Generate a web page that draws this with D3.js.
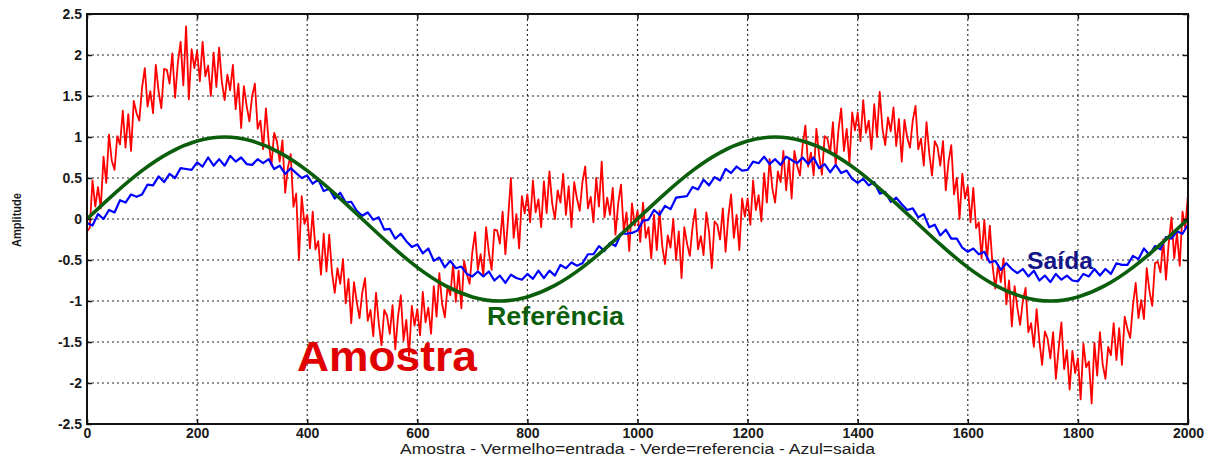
<!DOCTYPE html>
<html><head><meta charset="utf-8">
<script src="https://cdn.jsdelivr.net/npm/d3@7"></script>
<style>
html,body{margin:0;padding:0;background:#fff;}
svg{display:block;font-family:"Liberation Sans",Arial,sans-serif;}
</style></head>
<body><svg id="c" width="1213" height="458"></svg>
<script>
// ---- data ----
const xTicks = [0,200,400,600,800,1000,1200,1400,1600,1800,2000];
const yTicks = [-2.5,-2,-1.5,-1,-0.5,0,0.5,1,1.5,2,2.5];
const yTickLabels = ["-2.5","-2","-1.5","-1","-0.5","0","0.5","1","1.5","2","2.5"];

// Vermelho = entrada (amostra), one value every 5 samples
const redStep = 5;
const redValues = [
-0.15,-0.11,0.47,0.15,0.39,0.13,0.76,0.44,1.03,0.71,
0.60,1.01,0.91,1.32,0.87,1.28,0.83,1.44,1.29,1.20,
1.60,1.84,1.37,1.56,1.29,1.88,1.56,1.35,1.83,1.82,
1.65,2.02,1.48,1.90,2.16,1.63,2.35,1.46,2.07,1.84,
2.05,1.68,2.16,1.74,1.87,1.50,2.03,1.61,2.09,1.67,
1.45,1.76,1.57,1.88,1.34,1.65,1.11,1.62,1.38,1.19,
1.50,1.65,1.10,1.20,0.85,1.35,0.95,0.65,1.05,0.95,
0.70,0.96,0.32,0.63,0.79,0.15,0.31,-0.50,0.28,-0.06,
0.05,-0.36,0.09,-0.37,-0.27,-0.68,-0.18,-0.64,-0.19,-0.65,
-0.90,-0.60,-0.79,-0.49,-1.03,-0.73,-1.27,-0.77,-1.01,-1.21,
-0.90,-0.72,-1.24,-1.11,-1.43,-0.90,-1.27,-1.54,-1.11,-1.18,
-1.40,-1.05,-1.59,-1.19,-0.93,-1.48,-1.23,-1.67,-1.06,-1.30,
-1.10,-1.42,-0.89,-1.26,-1.08,-1.40,-0.82,-1.19,-0.66,-1.03,
-1.20,-0.82,-0.93,-0.55,-1.01,-0.63,-1.09,-0.51,-0.67,-0.79,
-0.40,-0.16,-0.62,-0.43,-0.69,-0.10,-0.41,-0.62,-0.13,-0.14,
-0.30,0.09,-0.43,0.01,0.50,-0.23,0.06,-0.36,0.28,0.07,
0.30,-0.04,0.47,0.08,0.24,-0.10,0.46,0.07,0.58,0.19,
0.00,0.35,0.20,0.55,0.05,0.40,-0.10,0.45,0.25,0.10,
0.45,0.64,0.13,0.27,-0.04,0.50,0.15,0.70,0.02,0.26,
0.05,0.38,-0.19,0.19,0.42,-0.15,0.08,-0.39,0.19,-0.08,
0.10,-0.28,0.20,-0.23,-0.10,-0.48,0.05,-0.38,0.10,-0.33,
-0.55,-0.20,-0.35,0.00,-0.50,-0.15,-0.72,-0.10,-0.30,-0.45,
-0.10,0.12,-0.37,-0.21,-0.44,0.08,-0.16,-0.60,-0.03,-0.07,
-0.25,0.13,-0.40,0.03,0.30,-0.23,0.05,-0.38,0.25,0.03,
0.25,-0.07,0.47,0.11,0.29,-0.03,0.56,0.20,0.73,0.37,
0.20,0.58,0.45,0.83,0.35,0.73,0.25,0.83,0.65,0.53,
0.90,1.14,0.64,0.81,0.53,1.10,0.77,0.54,1.01,0.98,
0.80,1.18,0.65,1.08,1.35,0.83,1.10,0.68,1.30,1.08,
1.30,0.95,1.45,1.05,1.20,0.85,1.40,1.00,1.55,1.10,
0.90,1.24,1.07,1.36,0.89,1.22,0.70,1.21,0.99,0.87,
1.20,1.38,0.85,0.98,0.65,1.18,0.80,0.53,0.95,0.88,
0.65,0.95,0.35,0.70,0.90,0.30,0.50,0.00,0.55,0.25,
0.40,-0.04,0.38,-0.11,-0.04,-0.48,-0.01,-0.50,-0.08,-0.57,
-0.85,-0.56,-0.77,-0.48,-1.04,-0.75,-1.31,-0.82,-1.08,-1.29,
-1.00,-0.84,-1.38,-1.27,-1.56,-1.10,-1.49,-1.78,-1.37,-1.46,
-1.70,-1.38,-1.95,-1.58,-1.26,-1.83,-1.60,-2.08,-1.61,-1.88,
-1.70,-2.20,-1.52,-1.81,-1.74,-2.25,-1.51,-1.91,-1.38,-1.77,
-1.95,-1.56,-1.66,-1.27,-1.72,-1.33,-1.78,-1.19,-1.34,-1.45,
-1.05,-0.78,-1.21,-0.99,-1.22,-0.60,-0.88,-1.06,-0.54,-0.52,
-0.65,-0.25,-0.74,-0.29,0.02,-0.48,-0.17,-0.57,0.09,-0.11,
0.30
];

// Azul = saida, one value every 10 samples
const blueStep = 10;
const blueValues = [
-0.05,-0.08,0.06,0.00,0.11,0.08,0.23,0.20,0.30,0.27,
0.30,0.42,0.41,0.52,0.45,0.55,0.50,0.62,0.61,0.60,
0.69,0.64,0.75,0.65,0.73,0.65,0.77,0.70,0.75,0.67,
0.66,0.73,0.68,0.73,0.61,0.65,0.55,0.62,0.56,0.50,
0.53,0.43,0.48,0.34,0.37,0.25,0.32,0.20,0.21,0.10,
0.04,0.08,-0.01,0.02,-0.13,-0.12,-0.24,-0.18,-0.27,-0.34,
-0.31,-0.42,-0.36,-0.51,-0.47,-0.59,-0.51,-0.60,-0.58,-0.67,
-0.70,-0.64,-0.70,-0.64,-0.75,-0.69,-0.78,-0.68,-0.72,-0.74,
-0.67,-0.73,-0.63,-0.72,-0.63,-0.69,-0.56,-0.60,-0.53,-0.57,
-0.54,-0.43,-0.43,-0.33,-0.39,-0.29,-0.33,-0.18,-0.18,-0.17,
-0.14,-0.02,-0.01,0.11,0.05,0.16,0.12,0.26,0.27,0.28,
0.39,0.36,0.48,0.41,0.51,0.47,0.61,0.56,0.64,0.59,
0.60,0.70,0.68,0.76,0.67,0.73,0.66,0.76,0.72,0.68,
0.75,0.67,0.75,0.62,0.67,0.57,0.66,0.56,0.59,0.49,
0.44,0.49,0.41,0.45,0.31,0.33,0.21,0.26,0.18,0.11,
0.13,0.02,0.06,-0.10,-0.07,-0.20,-0.13,-0.24,-0.24,-0.35,
-0.40,-0.36,-0.43,-0.40,-0.53,-0.51,-0.62,-0.54,-0.61,-0.66,
-0.61,-0.70,-0.63,-0.75,-0.69,-0.77,-0.67,-0.74,-0.69,-0.75,
-0.76,-0.67,-0.70,-0.61,-0.69,-0.61,-0.67,-0.54,-0.56,-0.56,
-0.45,-0.49,-0.36,-0.44,-0.33,-0.37,-0.22,-0.24,-0.15,-0.18,
-0.07
];

// Verde = referencia, one value every 50 samples
const greenStep = 50;
const greenValues = [
0,0.31,0.59,0.81,0.95,1,0.95,0.81,0.59,0.31,
0,-0.31,-0.59,-0.81,-0.95,-1,-0.95,-0.81,-0.59,-0.31,
0,0.31,0.59,0.81,0.95,1,0.95,0.81,0.59,0.31,
0,-0.31,-0.59,-0.81,-0.95,-1,-0.95,-0.81,-0.59,-0.31,
0
];

const xLabel = "Amostra  - Vermelho=entrada - Verde=referencia - Azul=saida";
const yLabel = "Amplitude";

// ---- drawing ----
const svg = d3.select("#c");
const L = 87, R = 1188, T = 14, B = 424;
const x = d3.scaleLinear().domain([0,2000]).range([L,R]);
const y = d3.scaleLinear().domain([-2.5,2.5]).range([B,T]);

// grid
const grid = svg.append("g").attr("stroke","#222").attr("stroke-width",1.1).attr("stroke-dasharray","2,3");
grid.selectAll("line.v").data(xTicks.slice(1,-1)).join("line")
  .attr("x1",d=>x(d)).attr("x2",d=>x(d)).attr("y1",T).attr("y2",B);
grid.selectAll("line.h").data(yTicks.slice(1,-1)).join("line")
  .attr("x1",L).attr("x2",R).attr("y1",d=>y(d)).attr("y2",d=>y(d));

const toPts = (vals, step) => vals.map((v,i)=>[i*step, v]);
const line = d3.line().x(d=>x(d[0])).y(d=>y(d[1]));

svg.append("path").datum(toPts(redValues,redStep))
  .attr("d",line).attr("fill","none").attr("stroke","#ff0000").attr("stroke-width",1.8).attr("stroke-linejoin","round");
svg.append("path").datum(toPts(blueValues,blueStep))
  .attr("d",line).attr("fill","none").attr("stroke","#0000ff").attr("stroke-width",2.2).attr("stroke-linejoin","round");
const gline = d3.line().x(d=>x(d[0])).y(d=>y(d[1])).curve(d3.curveNatural);
svg.append("path").datum(toPts(greenValues,greenStep))
  .attr("d",gline).attr("fill","none").attr("stroke","#0b5e0b").attr("stroke-width",3.6);

// axes
const fmt = d => yTickLabels[yTicks.indexOf(d)];
const ax = svg.append("g").attr("transform",`translate(0,${B})`)
  .call(d3.axisBottom(x).tickValues(xTicks).tickSize(-5).tickPadding(4).tickFormat(d3.format("d")));
const ay = svg.append("g").attr("transform",`translate(${L},0)`)
  .call(d3.axisLeft(y).tickValues(yTicks).tickSize(-5).tickPadding(5).tickFormat(fmt));
const axT = svg.append("g").attr("transform",`translate(0,${T})`)
  .call(d3.axisTop(x).tickValues(xTicks).tickSize(-5).tickFormat(""));
const ayR = svg.append("g").attr("transform",`translate(${R},0)`)
  .call(d3.axisRight(y).tickValues(yTicks).tickSize(-5).tickFormat(""));
[ax,ay,axT,ayR].forEach(g=>{
  g.select(".domain").remove();
  g.selectAll(".tick line").attr("stroke","#111").attr("stroke-width",1.5);
  g.selectAll(".tick text").attr("fill","#1a1a1a").attr("font-size",14).attr("font-weight","bold")
    .attr("font-family","'Liberation Sans',Arial,sans-serif");
});
svg.append("rect").attr("x",L).attr("y",T).attr("width",R-L).attr("height",B-T)
  .attr("fill","none").attr("stroke","#111").attr("stroke-width",2);

// axis titles
svg.append("text").attr("x",(L+R)/2).attr("y",454).attr("text-anchor","middle")
  .attr("font-size",14).attr("fill","#1a1a1a").attr("textLength",475).attr("lengthAdjust","spacingAndGlyphs").text(xLabel);
svg.append("text").attr("transform","translate(21,220) rotate(-90)").attr("text-anchor","middle")
  .attr("font-size",12).attr("font-weight","bold").attr("fill","#1a1a1a")
  .attr("textLength",54).attr("lengthAdjust","spacingAndGlyphs").text(yLabel);

// annotations
svg.append("text").attr("x",297).attr("y",371).attr("font-size",42).attr("font-weight","bold")
  .attr("fill","#e00000").attr("textLength",180).attr("lengthAdjust","spacingAndGlyphs").text("Amostra");
svg.append("text").attr("x",487).attr("y",325).attr("font-size",25).attr("font-weight","bold")
  .attr("fill","#0b5e0b").attr("textLength",137).attr("lengthAdjust","spacingAndGlyphs").text("Referência");
svg.append("text").attr("x",1027).attr("y",269).attr("font-size",24).attr("font-weight","bold")
  .attr("fill","#15158a").attr("textLength",66).attr("lengthAdjust","spacingAndGlyphs").text("Saída");
</script></body></html>
